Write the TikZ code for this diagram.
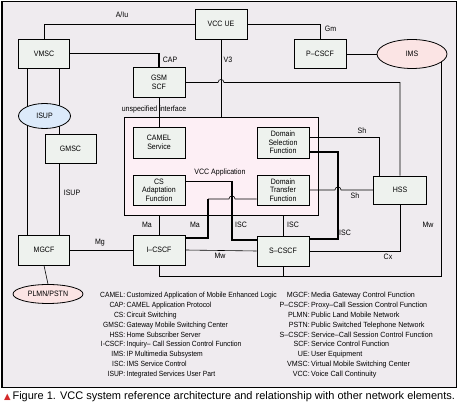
\documentclass[tikz,border=0pt]{standalone}
\usepackage{fontspec}
\setmainfont{Liberation Sans}
\newfontfamily\cf[FakeStretch=0.9]{Liberation Sans}
\newfontfamily\lf[FakeStretch=0.95]{Liberation Sans}
\newfontfamily\dv{DejaVu Sans}
\usetikzlibrary{shapes.geometric,calc}
\pgfdeclarelayer{bg}\pgfdeclarelayer{lines}\pgfsetlayers{bg,lines,main}
\definecolor{framebg}{HTML}{EFEBEF}
\definecolor{boxbg}{HTML}{EEF2EE}
\definecolor{apppink}{HTML}{FDEFF5}
\definecolor{imspink}{HTML}{FBE4E4}
\definecolor{isupblue}{HTML}{DCEAFA}
\definecolor{capred}{HTML}{D42A2A}
\begin{document}
\begin{tikzpicture}[x=1pt,y=-1pt,
  elem/.style={draw, line width=0.9pt, fill=boxbg, minimum width=52pt, minimum height=30pt,
    inner sep=0pt, align=center, font=\cf\fontsize{7.8}{8.6}\selectfont},
  oval/.style={ellipse, draw, line width=0.8pt, inner sep=0pt, font=\cf\fontsize{7.8}{8.6}\selectfont},
  lbl/.style={inner sep=0pt, font=\cf\fontsize{7.8}{8.6}\selectfont},
  legk/.style={inner sep=0pt, anchor=base east, font=\cf\fontsize{7.5}{8.6}\selectfont},
  legv/.style={inner sep=0pt, anchor=base west, font=\cf\fontsize{7.5}{8.6}\selectfont},
  legkr/.style={legk, font=\lf\fontsize{7.5}{8.6}\selectfont},
  legvr/.style={legv, font=\lf\fontsize{7.5}{8.6}\selectfont},
  link/.style={line width=0.6pt},
  islink/.style={line width=1.7pt},
]
\useasboundingbox (0,0) rectangle (459,406);
\begin{pgfonlayer}{bg}
  \fill[white] (0,0) rectangle (459,406);
  \draw[fill=framebg, line width=1pt] (2,2) rectangle (456.5,387.5);
  \node[draw, fill=apppink, line width=0.9pt, minimum width=194pt, minimum height=98pt, inner sep=0pt] (vccapp) at (221,166) {};
\end{pgfonlayer}

% elements
\node[elem] (vccue) at (221,24) {VCC UE};
\node[elem, minimum width=51pt, minimum height=29pt] (vmsc) at (44,53.5) {VMSC};
\node[elem] (gsmscf) at (159,82.5) {GSM\\SCF};
\node[elem, minimum height=29pt] (pcscf) at (320,54) {P–CSCF};
\node[oval, fill=imspink, minimum width=70pt, minimum height=29pt] (ims) at (412,54) {IMS};
\node[oval, fill=isupblue, minimum width=52pt, minimum height=25pt] (isup) at (44.5,116) {ISUP};
\node[elem, minimum width=51pt, minimum height=29pt] (gmsc) at (70.5,148.5) {GMSC};
\node[elem, minimum width=51pt] (mgcf) at (44,250) {MGCF};
\node[elem] (icscf) at (159,250) {I–CSCF};
\node[elem] (scscf) at (283,251) {S–CSCF};
\node[elem, minimum width=53pt, minimum height=28pt] (hss) at (400,190) {HSS};
\node[oval, fill=imspink, minimum width=70pt, minimum height=19pt] (plmn) at (48,294) {PLMN/PSTN};
\node[elem, minimum height=31pt] (camel) at (159,142.5) {CAMEL\\Service};
\node[elem, minimum height=31pt] (dsf) at (283,142.5) {Domain\\Selection\\Function};
\node[elem] (csaf) at (159,190) {CS\\Adaptation\\Function};
\node[elem] (dtf) at (283,190) {Domain\\Transfer\\Function};
\node[lbl] (applbl) at (220,172) {VCC Application};

\coordinate (iscx) at (232,0);
\coordinate (max) at (208,0);
\coordinate (isctwox) at (338,0);
\coordinate (shx) at (379,0);
\coordinate (mwc) at (441,276);

\begin{pgfonlayer}{lines}
  \draw[link] (vmsc.north) |- (vccue.west);
  \draw[link] (vmsc.east) -- (vmsc.east -| gsmscf.north);
  \draw[islink] (vmsc.east -| gsmscf.north) -- (gsmscf.north);
  \draw[link] (vccue.south) -- (vccue.south |- vccapp.north);
  \draw[link] (gsmscf.east) -- ($(gsmscf.east -| vccue.south)+(-3,0)$)
     .. controls +(0,-4) and +(0,-4) .. ($(gsmscf.east -| vccue.south)+(3,0)$)
     -- (gsmscf.east -| hss.north) -- (hss.north);
  \draw[link] (gsmscf.south) -- (camel.north);
  \draw[link] (vccue.east) -| (pcscf.north);
  \draw[link] (pcscf.east) -- (ims.west);
  \draw[link] (icscf.south) |- (mwc) -- (mwc |- ims.center);
  \draw[link] (scscf.south) -- (scscf.south |- mwc);
  \draw[link] (mgcf.east) -- (icscf.west);
  \draw[link] (icscf.east) -- (scscf.west);
  \draw[link] (scscf.east) -| (hss.south);
  \draw[link] (mgcf.south) -- (plmn.north);
  \draw[link] ([xshift=-17pt]vmsc.south) -- ([xshift=-17pt]vmsc.south |- mgcf.north);
  \draw[link] ([xshift=15pt]vmsc.south) -- ([xshift=15pt]vmsc.south |- gmsc.north);
  \draw[link] ([xshift=15pt]mgcf.north |- gmsc.south) -- ([xshift=15pt]mgcf.north);
  \draw[link] (icscf.north) -- (icscf.north |- vccapp.south);
  \draw[link] (scscf.north) -- (scscf.north |- vccapp.south);
  % CS adaptation -> S-CSCF (ISC)
  \draw[link] ([yshift=9pt]csaf.east) -- ([yshift=9pt]csaf.east -| iscx);
  \draw[islink] ([yshift=9pt]csaf.east -| iscx) -- ([yshift=11pt]scscf.west -| iscx) -- ([yshift=11pt]scscf.west);
  % Domain transfer -> I-CSCF (Ma)
  \draw[link] ([yshift=-9pt]dtf.west) -- ($([yshift=-9pt]dtf.west -| iscx)+(3,0)$)
     .. controls +(0,-4) and +(0,-4) .. ($([yshift=-9pt]dtf.west -| iscx)+(-3,0)$)
     -- ([yshift=-9pt]dtf.west -| max);
  \draw[islink] ([yshift=-9pt]dtf.west -| max) -- ([yshift=12pt]icscf.east -| max) -- ([yshift=12pt]icscf.east);
  % Domain selection -> S-CSCF (ISC)
  \draw[islink] ([yshift=-9.5pt]dsf.east) -- ([yshift=-9.5pt]dsf.east -| isctwox)
     -- ([yshift=12pt]scscf.east -| isctwox) -- ([yshift=12pt]scscf.east);
  % Domain selection -> HSS (Sh)
  \draw[link] ([yshift=5.5pt]dsf.east) -- ([yshift=5.5pt]dsf.east -| shx) -- (hss.north -| shx);
  % Domain transfer -> HSS (Sh)
  \draw[link] (dtf.east) -- ($(dtf.east -| isctwox)+(-3,0)$)
     .. controls +(0,-4) and +(0,-4) .. ($(dtf.east -| isctwox)+(3,0)$) -- (dtf.east -| hss.west);
\end{pgfonlayer}

% connector labels
\node[lbl] (l1) at (122,15) {A/Iu};
\node[lbl] (l2) at (170,60) {CAP};
\node[lbl] (l3) at (228,60) {V3};
\node[lbl] (l4) at (154,109) {unspecified interface};
\node[lbl] (l5) at (330.5,29) {Gm};
\node[lbl] (l6) at (362,131) {Sh};
\node[lbl] (l7) at (355,196) {Sh};
\node[lbl] (l8) at (345,233) {ISC};
\node[lbl] (l9) at (428,225) {Mw};
\node[lbl] (l10) at (388,257) {Cx};
\node[lbl] (l11) at (293,225) {ISC};
\node[lbl] (l12) at (241,225) {ISC};
\node[lbl] (l13) at (195,225) {Ma};
\node[lbl] (l14) at (147,225) {Ma};
\node[lbl] (l15) at (100,243) {Mg};
\node[lbl] (l16) at (220,256) {Mw};
\node[lbl] (l17) at (72,193) {ISUP};

% legend
\foreach [count=\i from 0] \a/\b in {CAMEL/Customized Application of Mobile Enhanced Logic,
  CAP/CAMEL Application Protocol, CS/Circuit Switching, GMSC/Gateway Mobile Switching Center,
  HSS/Home Subscriber Server, I-CSCF/Inquiry– Call Session Control Function,
  IMS/IP Multimedia Subsystem, ISC/IMS Service Control, ISUP/Integrated Services User Part}
{
  \node[legk] (lk\i) at (125.5,297.5+9.9*\i) {\a:};
  \node[legv] (lv\i) at (126.5,297.5+9.9*\i) {\b};
}
\foreach [count=\i from 0] \a/\b in {MGCF/Media Gateway Control Function,
  P–CSCF/Proxy–Call Session Control Function, PLMN/Public Land Mobile Network,
  PSTN/Public Switched Telephone Network, S–CSCF/Service–Call Session Control Function,
  SCF/Service Control Function, UE/User Equipment, VMSC/Virtual Mobile Switching Center,
  VCC/Voice Call Continuity}
{
  \node[legkr] (rk\i) at (310,297.5+9.9*\i) {\a:};
  \node[legvr] (rv\i) at (311,297.5+9.9*\i) {\b};
}

% caption
\node[anchor=west, inner sep=0pt, font=\fontsize{11}{13}\selectfont] (caption) at (4,397)
  {\textcolor{capred}{\dv\fontsize{8.5}{10}\selectfont ▲}\,Figure 1. VCC system reference architecture and relationship with other network elements.};
\end{tikzpicture}
\end{document}
